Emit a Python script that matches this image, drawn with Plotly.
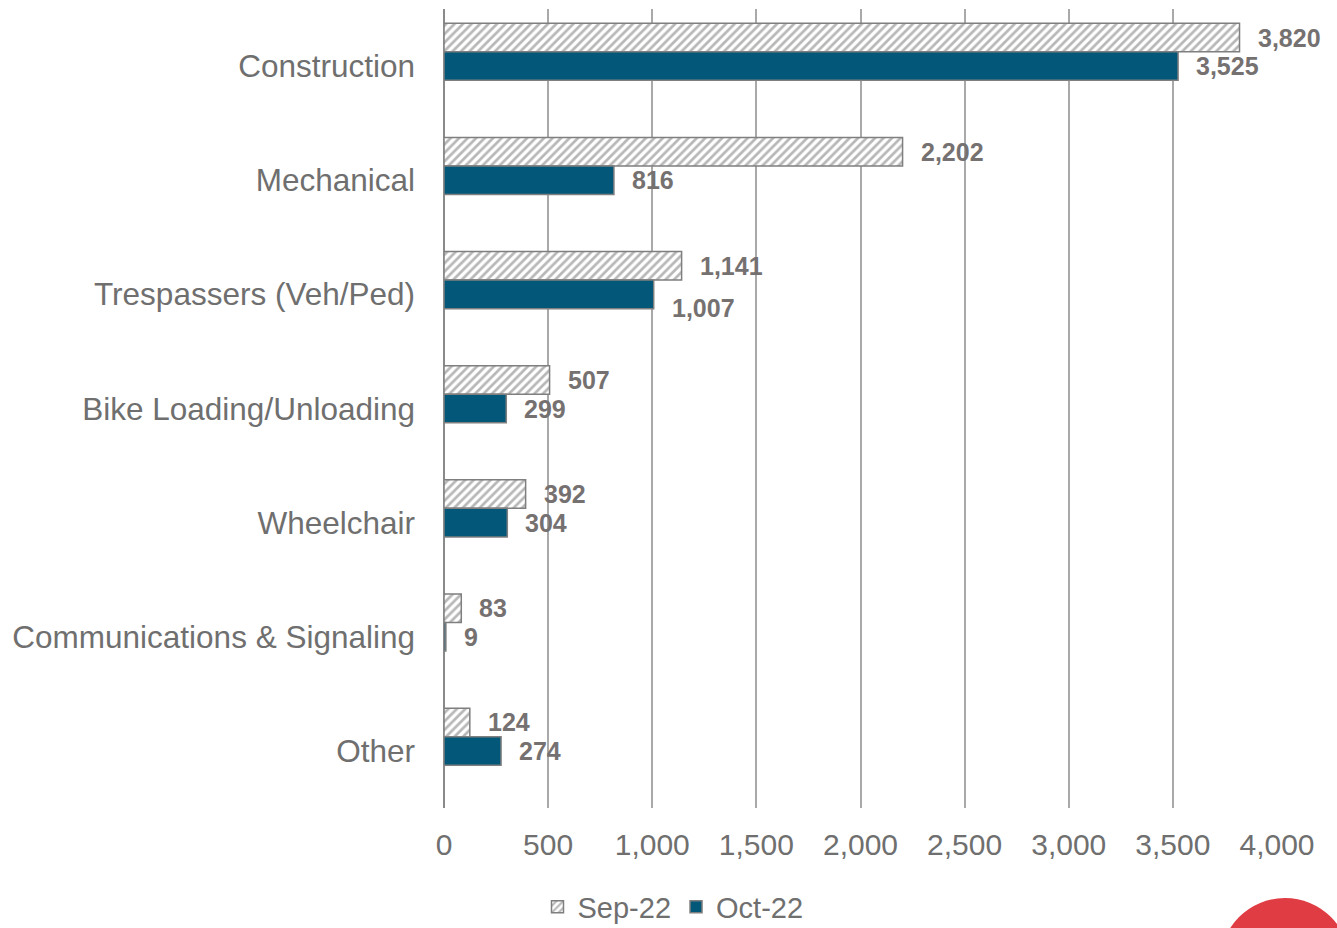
import plotly.graph_objects as go

# Delay counts by cause, two consecutive months
categories = [
    "Construction",
    "Mechanical",
    "Trespassers (Veh/Ped)",
    "Bike Loading/Unloading",
    "Wheelchair",
    "Communications & Signaling",
    "Other",
]
sep_22 = [3820, 2202, 1141, 507, 392, 83, 124]
oct_22 = [3525, 816, 1007, 299, 304, 9, 274]
x_ticks = [0, 500, 1000, 1500, 2000, 2500, 3000, 3500, 4000]

W, H = 1337, 928
M_L, M_R, M_T, M_B = 444, 60, 9, 120
PLOT_W = W - M_L - M_R
PLOT_H = H - M_T - M_B

FONT = "Liberation Sans, Arial, sans-serif"
TEXT_GREY = "#6f6f6f"
LABEL_GREY = "#767171"
EDGE_GREY = "#7f7f7f"
OCT_BLUE = "#03587a"

fig = go.Figure()

fig.add_trace(go.Bar(
    name="Sep-22",
    y=categories,
    x=sep_22,
    orientation="h",
    width=0.25,
    offset=-0.375,
    marker=dict(
        color="white",
        line=dict(color=EDGE_GREY, width=1.5),
        pattern=dict(shape="/", fgcolor="#6f6f6f", bgcolor="white",
                     size=6, solidity=0.45, fillmode="overlay"),
    ),
    hoverinfo="x+y+name",
))
fig.add_trace(go.Bar(
    name="Oct-22",
    y=categories,
    x=oct_22,
    orientation="h",
    width=0.25,
    offset=-0.125,
    marker=dict(color=OCT_BLUE, line=dict(color=EDGE_GREY, width=1.5)),
    hoverinfo="x+y+name",
))

# value labels just past the end of each bar
band_px = PLOT_H / len(categories)
label_nudge = {("Oct-22", "Trespassers (Veh/Ped)"): -14}
annotations = []
for name, values, centre in (("Sep-22", sep_22, 0.25), ("Oct-22", oct_22, 0.0)):
    for cat, v in zip(categories, values):
        annotations.append(dict(
            x=v, y=cat, xref="x", yref="y",
            text=f"<b>{v:,}</b>",
            showarrow=False,
            xanchor="left", yanchor="middle",
            xshift=16,
            yshift=centre * band_px + label_nudge.get((name, cat), 0),
            font=dict(family=FONT, size=25, color=LABEL_GREY),
        ))


def px_x(p):
    return (p - M_L) / PLOT_W


def px_y(p):
    return (M_T + PLOT_H - p) / PLOT_H


fig.update_layout(
    width=W,
    height=H,
    margin=dict(l=M_L, r=M_R, t=M_T, b=M_B, pad=0, autoexpand=False),
    paper_bgcolor="white",
    plot_bgcolor="white",
    barmode="overlay",
    font=dict(family=FONT, color=TEXT_GREY, size=31),
    annotations=annotations,
    showlegend=True,
    legend=dict(
        orientation="h",
        x=px_x(673), y=px_y(907),
        xanchor="center", yanchor="middle",
        font=dict(family=FONT, size=29, color=TEXT_GREY),
        itemwidth=30,
        bgcolor="rgba(0,0,0,0)",
    ),
    xaxis=dict(
        range=[0, 4000],
        tickvals=x_ticks,
        tickformat=",d",
        showgrid=True,
        gridcolor="#a9a9a9",
        gridwidth=1.5,
        zeroline=True,
        zerolinecolor="#8a8a8a",
        zerolinewidth=2,
        showline=False,
        ticks="",
        ticklabelstandoff=16,
        tickfont=dict(family=FONT, size=30, color=TEXT_GREY),
        fixedrange=True,
    ),
    yaxis=dict(
        type="category",
        autorange="reversed",
        showgrid=False,
        zeroline=False,
        showline=False,
        ticks="",
        ticklabelstandoff=28,
        tickfont=dict(family=FONT, size=31.5, color=TEXT_GREY),
        fixedrange=True,
    ),
    shapes=[dict(
        type="circle",
        xref="paper", yref="paper",
        x0=px_x(1220), x1=px_x(1350),
        y0=px_y(1028), y1=px_y(898),
        fillcolor="#e03c44",
        line=dict(width=0),
        layer="above",
    )],
)

fig.write_html("out.html")
